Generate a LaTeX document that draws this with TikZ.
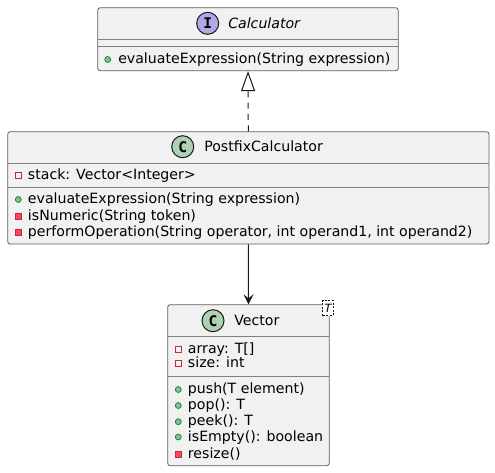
\documentclass[tikz,border=0pt]{standalone}
\usepackage{fontspec}
\setmainfont{DejaVu Sans}
\newfontfamily\iconfont{DejaVu Sans Mono}
\usetikzlibrary{arrows.meta}
\definecolor{boxfill}{HTML}{F1F1F1}
\definecolor{boxline}{HTML}{181818}
\definecolor{cicon}{HTML}{ADD1B2}
\definecolor{iicon}{HTML}{B4A7E5}
\definecolor{pubfill}{HTML}{84BE84}
\definecolor{publine}{HTML}{038048}
\definecolor{privfill}{HTML}{F24D5C}
\definecolor{privline}{HTML}{C82930}
\tikzset{
  classbox/.style={draw=boxline!70, fill=boxfill, line width=0.6pt, rounded corners=1.9pt, inner sep=0pt},
  sepline/.style={draw=boxline!55, line width=0.6pt},
  member/.style={anchor=base west, inner sep=0pt, font=\fontsize{10.6pt}{12pt}\selectfont},
  titletext/.style={anchor=base west, inner sep=0pt, font=\fontsize{10.6pt}{12pt}\selectfont},
  kindicon/.style={circle, draw=boxline, line width=0.75pt, minimum size=16.5pt, inner sep=0pt, font=\iconfont\bfseries\fontsize{11pt}{12pt}\selectfont},
  pubicon/.style={circle, fill=pubfill, draw=publine, line width=0.5pt, minimum size=4.5pt, inner sep=0pt},
  privfield/.style={rectangle, draw=privline, fill=none, line width=0.75pt, minimum size=4.5pt, inner sep=0pt},
  privmeth/.style={rectangle, draw=privline, fill=privfill, line width=0.75pt, minimum size=4.5pt, inner sep=0pt},
  realize/.style={draw=boxline, line width=0.75pt, dash pattern=on 4.5pt off 4pt},
  assoc/.style={draw=boxline, line width=0.75pt}
}
\begin{document}
\begin{tikzpicture}[x=0.75pt,y=-0.75pt]
\useasboundingbox (0,0) rectangle (495,472);

% ---------- Calculator ----------
\node[classbox, minimum width=300.6*0.75pt, minimum height=63*0.75pt] (calc) at (248,39.2) {};
\draw[sepline] (97.7,39) -- (398.3,39);
\draw[sepline] (97.7,46.7) -- (398.3,46.7);
\node[kindicon, fill=iicon] (calcicon) at (207.7,23.3) {I};
\node[titletext, font=\fontsize{10.6pt}{12pt}\selectfont\itshape] (calctitle) at (228,28.3) {Calculator};
\node[pubicon] (c1i) at (107.7,59.5) {};
\node[member] (c1) at (118,63) {evaluateExpression(String expression)};

% ---------- PostfixCalculator ----------
\node[classbox, minimum width=481.3*0.75pt, minimum height=112.3*0.75pt] (post) at (248.3,187.85) {};
\draw[sepline] (7.7,163.3) -- (489,163.3);
\draw[sepline] (7.7,187.3) -- (489,187.3);
\node[kindicon, fill=cicon] (posticon) at (182.7,146.7) {C};
\node[titletext] (posttitle) at (204,151.7) {PostfixCalculator};
\node[privfield] (p0i) at (18.3,175.3) {};
\node[member] (p0) at (27.7,179.5) {stack: Vector<Integer>};
\node[pubicon] (p1i) at (18.3,199.5) {};
\node[member] (p1) at (27.7,203.8) {evaluateExpression(String expression)};
\node[privmeth] (p2i) at (18.3,216) {};
\node[member] (p2) at (27.7,220.3) {isNumeric(String token)};
\node[privmeth] (p3i) at (18.3,232) {};
\node[member] (p3) at (27.7,236.2) {performOperation(String operator, int operand1, int operand2)};

% ---------- Vector ----------
\node[classbox, minimum width=161.6*0.75pt, minimum height=161*0.75pt] (vec) at (248.5,385.2) {};
\draw[sepline] (167.7,336) -- (329.3,336);
\draw[sepline] (167.7,376) -- (329.3,376);
\node[kindicon, fill=cicon] (vecicon) at (213,320.7) {C};
\node[titletext] (vectitle) at (234,325.7) {Vector};
\node[draw=boxline, fill=white, line width=0.6pt, dash pattern=on 1.5pt off 1.2pt, inner sep=0pt, minimum width=10.5*0.75pt, minimum height=15.5*0.75pt, font=\fontsize{8.5pt}{9pt}\selectfont\itshape] (tparam) at (328,307.9) {T};
\node[privfield] (v1i) at (178.3,349.5) {};
\node[member] (v1) at (187.7,353.8) {array: T[]};
\node[privfield] (v2i) at (178.3,363.5) {};
\node[member] (v2) at (187.7,367.8) {size: int};
\node[pubicon] (v3i) at (178.3,389.5) {};
\node[member] (v3) at (187.7,393.8) {push(T element)};
\node[pubicon] (v4i) at (178.3,405.5) {};
\node[member] (v4) at (187.7,409.6) {pop(): T};
\node[pubicon] (v5i) at (178.3,421.7) {};
\node[member] (v5) at (187.7,425.9) {peek(): T};
\node[pubicon] (v6i) at (178.3,437) {};
\node[member] (v6) at (187.7,441.2) {isEmpty(): boolean};
\node[privmeth] (v7i) at (178.3,454) {};
\node[member] (v7) at (187.7,458.3) {resize()};

% ---------- connectors ----------
\draw[realize, -{Triangle[open, length=20*0.75pt, width=14*0.75pt, line width=0.75pt]}] (post.north) -- (calc.south);
\draw[assoc, -{Stealth[length=10*0.75pt, width=10*0.75pt, inset=4*0.75pt]}] (post.south) -- (vec.north);
\end{tikzpicture}
\end{document}
